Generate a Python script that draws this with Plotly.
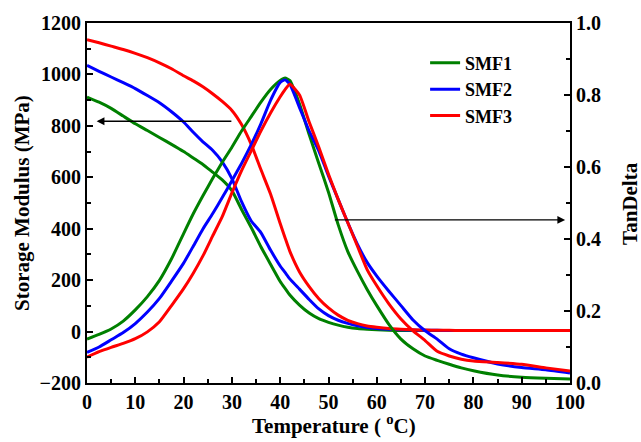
import plotly.graph_objects as go

# ---- shared temperature grid (°C) ----
temps = [0, 2.5, 5, 7.5, 10, 12.5, 15, 17.5,
         20, 22, 24, 26, 28, 30, 32, 34, 36, 38, 40,
         41,
         42, 44, 46, 48, 50, 52, 54, 56, 58, 60,
         62.5, 65, 67.5, 70, 72.5, 75, 77.5, 80,
         85, 90, 95, 100]

# ---- Storage modulus (MPa), left axis ----
e_smf1 = [912, 892, 868, 838, 808, 782, 755, 728,
          700, 675, 650, 620, 590, 548, 475, 405, 330, 262, 195,
          168,
          142, 103, 72, 50, 36, 25, 17, 12, 9, 7,
          5, 4, 4, 4, 4, 4, 4, 4,
          4, 4, 4, 4]
e_smf2 = [1035, 1012, 990, 968, 945, 918, 890, 855,
          815, 775, 738, 705, 660, 595, 505, 430, 385, 317, 255,
          230,
          205, 165, 125, 88, 62, 44, 32, 23, 16, 12,
          9, 7, 6, 5, 5, 4, 4, 4,
          4, 4, 4, 4]
e_smf3 = [1135, 1123, 1110, 1097, 1082, 1065, 1045, 1022,
          995, 975, 952, 925, 895, 860, 805, 728, 630, 535, 420,
          365,
          312, 232, 175, 128, 92, 64, 44, 31, 22, 17,
          12, 9, 7, 6, 5, 5, 4, 4,
          4, 4, 4, 4]

# ---- TanDelta, right axis ----
d_smf1 = [0.122, 0.135, 0.150, 0.172, 0.203, 0.240, 0.285, 0.345,
          0.415, 0.470, 0.520, 0.568, 0.613, 0.655, 0.700, 0.740, 0.780, 0.815, 0.840,
          0.847,
          0.840, 0.775, 0.690, 0.610, 0.530, 0.440, 0.365, 0.310, 0.260, 0.215,
          0.163, 0.122, 0.095, 0.075, 0.063, 0.052, 0.042, 0.034,
          0.022, 0.016, 0.013, 0.011]
d_smf2 = [0.085, 0.100, 0.120, 0.140, 0.165, 0.197, 0.235, 0.283,
          0.333, 0.380, 0.428, 0.470, 0.515, 0.562, 0.610, 0.662, 0.720, 0.785, 0.835,
          0.842,
          0.830, 0.765, 0.700, 0.645, 0.575, 0.510, 0.445, 0.385, 0.335, 0.297,
          0.255, 0.215, 0.175, 0.145, 0.122, 0.095, 0.080, 0.070,
          0.053, 0.043, 0.037, 0.028]
d_smf3 = [0.072, 0.087, 0.099, 0.110, 0.123, 0.142, 0.170, 0.215,
          0.262, 0.305, 0.353, 0.408, 0.462, 0.528, 0.590, 0.645, 0.700, 0.750, 0.795,
          0.815,
          0.830, 0.800, 0.725, 0.655, 0.580, 0.510, 0.445, 0.380, 0.315, 0.270,
          0.220, 0.178, 0.145, 0.118, 0.088, 0.075, 0.066, 0.061,
          0.057, 0.052, 0.042, 0.033]

names = ["SMF1", "SMF2", "SMF3"]
colors = ["#008000", "#0000FF", "#FF0000"]

FONT = "Liberation Serif"

fig = go.Figure()
mod_sets = [e_smf1, e_smf2, e_smf3]
tan_sets = [d_smf1, d_smf2, d_smf3]

for i in range(3):
    fig.add_trace(go.Scatter(x=temps, y=mod_sets[i], mode="lines", name=names[i], legendgroup=names[i],
                             line=dict(color=colors[i], width=3, shape="spline", smoothing=0.5),
                             yaxis="y", showlegend=True))
for i in range(3):
    fig.add_trace(go.Scatter(x=temps, y=tan_sets[i], mode="lines", name=names[i], legendgroup=names[i],
                             line=dict(color=colors[i], width=3, shape="spline", smoothing=0.5),
                             yaxis="y2", showlegend=False))

tickfont = dict(family=FONT, size=20, color="black", weight="bold")

fig.update_layout(
    width=641, height=442,
    margin=dict(l=87, r=71, t=23, b=59),
    paper_bgcolor="white", plot_bgcolor="white",
    showlegend=True,
    legend=dict(x=0.70, y=0.94, xanchor="left", yanchor="top",
                font=dict(family=FONT, size=18, color="black", weight="bold"),
                bgcolor="rgba(0,0,0,0)", tracegroupgap=0),
    xaxis=dict(range=[0, 100], dtick=10, tick0=0, showgrid=False, zeroline=False,
               showline=True, linecolor="black", linewidth=2, mirror=True, automargin=False,
               ticks="inside", ticklen=6, tickwidth=2, tickcolor="black",
               minor=dict(ticks="inside", ticklen=4, tickwidth=2, dtick=5, tickcolor="black"),
               tickfont=tickfont),
    yaxis=dict(range=[-200, 1200], dtick=200, tick0=0, showgrid=False, zeroline=False,
               showline=True, linecolor="black", linewidth=2, automargin=False,
               ticks="inside", ticklen=6, tickwidth=2, tickcolor="black",
               minor=dict(ticks="inside", ticklen=4, tickwidth=2, dtick=100, tickcolor="black"),
               tickfont=tickfont),
    yaxis2=dict(range=[0, 1], dtick=0.2, tick0=0, tickformat=".1f", overlaying="y", side="right",
                showgrid=False, zeroline=False, automargin=False,
                showline=True, linecolor="black", linewidth=2,
                ticks="inside", ticklen=6, tickwidth=2, tickcolor="black",
                minor=dict(ticks="inside", ticklen=4, tickwidth=2, dtick=0.1, tickcolor="black"),
                tickfont=tickfont),
)

# axis titles as annotations (exact placement)
fig.add_annotation(text="Temperature ( <sup>o</sup>C)", xref="paper", yref="paper",
                   x=0.511, y=-0.158, xanchor="center", yanchor="bottom", showarrow=False,
                   font=dict(family=FONT, size=21, color="black", weight="bold"))
fig.add_annotation(text="Storage Modulus (MPa)", xref="paper", yref="paper",
                   x=-0.1346, y=0.5, xanchor="center", yanchor="middle", showarrow=False,
                   textangle=-90, font=dict(family=FONT, size=21, color="black", weight="bold"))
fig.add_annotation(text="TanDelta", xref="paper", yref="paper",
                   x=1.124, y=0.5, xanchor="center", yanchor="middle", showarrow=False,
                   textangle=-90, font=dict(family=FONT, size=21, color="black", weight="bold"))

# arrows
fig.add_annotation(x=2, y=818, xref="x", yref="y", ax=30.2, ay=818, axref="x", ayref="y",
                   text="", showarrow=True, arrowhead=2, arrowsize=1.2, arrowwidth=1.3,
                   arrowcolor="black", standoff=0, startstandoff=0)
fig.add_annotation(x=99, y=0.453, xref="x", yref="y2", ax=51, ay=0.453, axref="x", ayref="y2",
                   text="", showarrow=True, arrowhead=2, arrowsize=1.2, arrowwidth=1.3,
                   arrowcolor="black", standoff=0, startstandoff=0)

fig.write_html("out.html", config={"displayModeBar": False})

# remove the default page margin so the figure sits at the window's top-left corner
with open("out.html", "r", encoding="utf-8") as f:
    html = f.read()
html = html.replace("<head>", "<head><style>html,body{margin:0;padding:0;overflow:hidden;}</style>", 1)
with open("out.html", "w", encoding="utf-8") as f:
    f.write(html)
